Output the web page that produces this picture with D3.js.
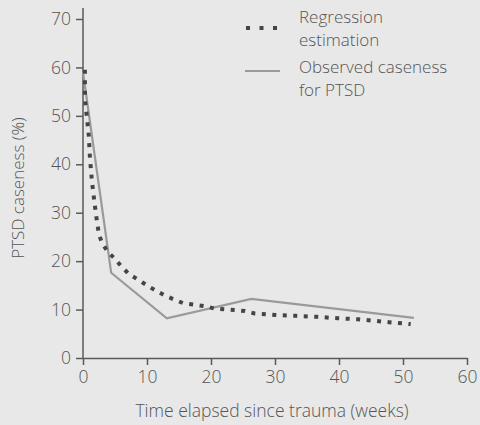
<!DOCTYPE html>
<html><head><meta charset="utf-8">
<script src="https://cdn.jsdelivr.net/npm/d3@7"></script>
<style>
html,body{margin:0;padding:0;background:#e8e8e8;}
svg{display:block;font-family:"Open Sans",sans-serif;font-weight:300;}
</style></head><body>
<svg id="c" width="480" height="425"></svg>
<script>
const xTicks = [0,10,20,30,40,50,60];
const yTicks = [0,10,20,30,40,50,60,70];
const observedWeeks = [0, 4.4, 13.1, 26.3, 51.7];
const observedPct   = [59, 17.6, 8.2, 12.2, 8.3];
const regressionWeeks = [0.3,0.3,0.5,0.9,1.1,1.4,1.8,2.2,2.5,2.9,3.8,4.9,6,7.2,8.6,10,11.4,12.8,14.2,15.7,17.4,19.1,20.6,23.6,25.3,26.8,30,33.3,36.6,39.8,43,47.8,51.2];
const regressionPct   = [59.5,53.5,51,46,41,36.5,32,28,25.5,24,22,20.6,18.9,17.3,16.2,15,13.9,12.9,12.1,11.3,11,10.7,10.2,9.9,9.7,9.2,8.9,8.7,8.5,8.2,8.0,7.4,7.0];
const legendLabels = [["Regression","estimation"],["Observed caseness","for PTSD"]];
const xLabel = "Time elapsed since trauma (weeks)";
const yLabel = "PTSD caseness (%)";

const svg = d3.select("#c");
const x = d3.scaleLinear().domain([0,60]).range([83,467]);
const y = d3.scaleLinear().domain([0,70]).range([358,19]);
const axisCol = "#5a5a5a", textCol = "#555";

const gx = svg.append("g").attr("transform","translate(0,358)")
  .call(d3.axisBottom(x).tickValues(xTicks).tickSize(7).tickPadding(6).tickSizeOuter(0));
const gy = svg.append("g").attr("transform","translate(83,0)")
  .call(d3.axisLeft(y).tickValues(yTicks).tickSize(7).tickPadding(5).tickSizeOuter(0));
[gx,gy].forEach(g=>{
  g.select(".domain").attr("stroke",axisCol).attr("stroke-width",1.5);
  g.selectAll(".tick line").attr("stroke",axisCol).attr("stroke-width",1.5);
  g.selectAll(".tick text").attr("fill",textCol).style("font-size","17.5px").style("font-family","'Open Sans',sans-serif").style("font-weight","300");
});
gy.select(".domain").attr("d","M0,8V358");

const obs = observedWeeks.map((w,i)=>[w,observedPct[i]]);
const reg = regressionWeeks.map((w,i)=>[w,regressionPct[i]]);
const line = d3.line().x(d=>x(d[0])).y(d=>y(d[1]));

svg.append("path").datum(obs).attr("d",line).attr("fill","none")
  .attr("stroke","#9a9a9a").attr("stroke-width",2.2);
svg.append("path").datum(reg).attr("d",line).attr("fill","none")
  .attr("stroke","#454545").attr("stroke-width",4).attr("stroke-dasharray","4,6.5");

// legend
svg.append("line").attr("x1",246).attr("x2",280).attr("y1",28).attr("y2",28)
  .attr("stroke","#454545").attr("stroke-width",4).attr("stroke-dasharray","4,9.5");
svg.append("line").attr("x1",245).attr("x2",280).attr("y1",71).attr("y2",71)
  .attr("stroke","#9a9a9a").attr("stroke-width",2.2);
const lt = svg.append("g").attr("fill",textCol).style("font-size","17px");
legendLabels.forEach((lines,i)=>{
  lines.forEach((t,j)=>{
    lt.append("text").attr("x",299).attr("y",(i===0?23:73)+j*23).text(t);
  });
});

svg.append("text").attr("x",272).attr("y",417).attr("text-anchor","middle")
  .attr("fill",textCol).style("font-size","17.5px").text(xLabel);
svg.append("text").attr("transform","translate(24,188) rotate(-90)").attr("text-anchor","middle")
  .attr("fill",textCol).style("font-size","17px").text(yLabel);
</script>
</body></html>
